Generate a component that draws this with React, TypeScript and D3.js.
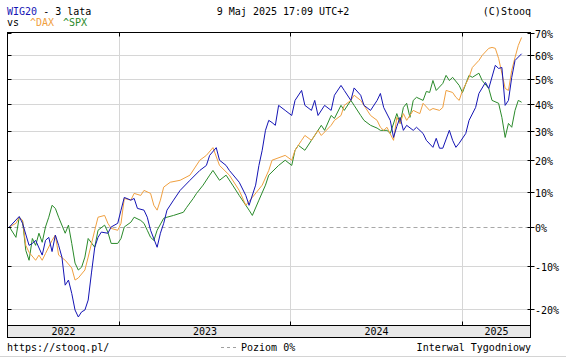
import React, { useEffect, useRef } from 'react';
import * as d3 from 'd3';

// week index counted from 13 May 2022, change in %
const wig20: [number, number][] = [
  [0, 0], [3, 2.9], [4, 1.0], [6, -4.9], [7, -4.4], [8, -3.6], [10, -7.4], [11, -3.6], [12, -2.8],
  [13, -6.5], [14, -2.2], [15, -4.9], [16, -7.9], [17, -14.7], [18, -13.5], [19, -16.6], [20, -20.3],
  [21, -21.8], [22, -20.7], [23, -20.3], [24, -18.1], [25, -11.8], [26, -5.4], [27, -2.8], [28, -1.4],
  [30, -1.7], [31, 0], [33, 1.0], [34, 4.7], [35, 8.4], [37, 7.6], [38, 8.1], [39, 5.2], [41, 4.7],
  [42, 2.7], [43, -0.9], [45, -5.4], [46, -1.7], [47, 1.0], [48, 4.7], [50, 7.6], [52, 10.5], [55, 13.6],
  [58, 16.7], [60, 18.3], [61, 21.6], [63, 24.2], [64, 20.0], [66, 18.3], [67, 16.7], [70, 13.0],
  [72, 9.0], [73, 6.1], [75, 12.1], [76, 18.3], [77, 23.3], [78, 30.2], [79, 33.8], [80, 33.0],
  [81, 32.0], [82, 39.4], [84, 37.5], [86, 35.6], [87, 41.3], [89, 45.2], [90, 39.4], [92, 37.5],
  [93, 41.3], [94, 35.6], [96, 39.4], [98, 37.5], [99, 43.3], [101, 47.2], [102, 45.2], [104, 41.3],
  [105, 46.2], [107, 43.3], [108, 39.4], [110, 37.5], [112, 41.3], [113, 44.0], [114, 38.6], [116, 33.8],
  [117, 27.7], [118, 31.6], [119, 34.9], [120, 30.2], [121, 32.0], [123, 30.2], [124, 31.3], [126, 29.1],
  [127, 26.7], [129, 24.3], [130, 27.4], [131, 24.0], [132, 24.0], [134, 30.2], [135, 26.7], [136, 24.3],
  [137, 25.7], [139, 29.1], [140, 33.8], [142, 38.6], [143, 44.0], [145, 48.4], [146, 46.0], [148, 55.5],
  [149, 54.2], [150, 54.6], [151, 39.4], [152, 41.3], [153, 50.5], [154, 57.6], [156, 60.5],
];

const dax: [number, number][] = [
  [0, 0], [2, 1.0], [3, 2.7], [4, 1.8], [5, -4.9], [6, -6.7], [8, -8.7], [9, -7.4], [10, -8.7],
  [11, -7.0], [13, -3.6], [14, -2.2], [15, -7.4], [17, -8.7], [19, -10.6], [20, -13.5], [21, -13.0],
  [23, -11.1], [24, -7.9], [26, -0.9], [27, 2.7], [29, 3.2], [30, 1.0], [31, -0.4], [33, -0.9],
  [34, 1.0], [35, 8.1], [37, 7.6], [38, 9.6], [40, 9.0], [41, 10.5], [43, 9.6], [44, 6.1], [45, 4.7],
  [46, 7.6], [47, 11.5], [49, 13.0], [52, 13.6], [55, 15.2], [58, 20.0], [60, 21.6], [62, 24.2],
  [64, 18.3], [67, 15.2], [70, 10.5], [72, 6.1], [74, 8.4], [77, 12.1], [79, 16.7], [80, 20.0],
  [84, 21.6], [86, 20.0], [87, 23.3], [89, 26.7], [90, 28.4], [92, 26.7], [94, 30.2], [95, 28.4],
  [98, 32.0], [99, 33.8], [101, 35.6], [102, 39.4], [104, 41.3], [105, 43.3], [107, 41.3], [108, 39.4],
  [110, 35.6], [112, 33.8], [113, 31.3], [114, 30.2], [115, 31.3], [117, 26.7], [118, 34.9], [119, 32.7],
  [120, 36.3], [121, 33.8], [123, 37.5], [125, 36.3], [126, 40.2], [128, 37.5], [129, 38.2], [131, 37.5],
  [132, 38.6], [133, 45.2], [135, 44.4], [136, 42.5], [137, 41.3], [138, 45.2], [140, 50.5], [141, 54.6],
  [143, 57.6], [144, 59.8], [146, 62.9], [147, 63.3], [148, 62.9], [149, 58.5], [150, 52.2], [151, 46.0],
  [152, 45.2], [153, 53.4], [154, 58.9], [155, 64.2], [156, 67.8],
];

const spx: [number, number][] = [
  [0, 0], [2, -2.8], [3, 2.7], [4, 1.8], [5, -6.2], [6, -8.7], [7, -3.1], [8, -4.9], [9, -1.7],
  [10, -4.1], [11, 0], [12, 2.7], [13, 6.1], [14, 5.2], [15, 2.7], [17, -1.7], [18, 0.5], [19, -4.4],
  [20, -9.4], [21, -11.1], [22, -10.4], [23, -7.9], [24, -3.1], [26, -5.4], [27, -0.9], [29, 0.5],
  [30, -1.4], [31, -4.4], [33, -4.4], [34, -3.1], [35, 0], [37, 1.3], [38, 2.7], [40, 1.8], [41, 1.0],
  [42, -0.9], [43, -2.8], [44, -3.6], [45, -0.9], [47, 2.4], [48, 2.7], [50, 3.2], [53, 4.1], [54, 5.5],
  [56, 8.1], [57, 9.6], [59, 12.1], [61, 15.2], [62, 16.7], [64, 13.6], [66, 15.2], [68, 12.1], [70, 9.0],
  [73, 4.7], [74, 3.2], [76, 7.6], [78, 12.1], [79, 15.2], [82, 18.3], [84, 20.0], [86, 18.3], [87, 23.3],
  [88, 25.0], [90, 23.3], [92, 26.7], [93, 28.4], [95, 32.0], [96, 30.2], [98, 35.6], [99, 34.5],
  [101, 39.4], [102, 37.5], [104, 41.3], [105, 39.4], [107, 35.6], [108, 33.8], [110, 32.0], [112, 31.0],
  [113, 30.2], [115, 30.2], [116, 29.1], [118, 36.3], [119, 32.7], [120, 38.6], [121, 40.2], [122, 34.9],
  [123, 41.3], [124, 42.5], [126, 41.3], [127, 44.8], [128, 44.4], [129, 49.2], [130, 45.2], [132, 48.0],
  [133, 51.3], [134, 49.2], [135, 50.5], [137, 47.2], [138, 44.4], [140, 51.3], [141, 50.5], [143, 52.2],
  [144, 49.2], [146, 46.0], [147, 41.3], [149, 40.2], [150, 34.9], [151, 27.7], [152, 32.7], [153, 31.3],
  [154, 37.5], [155, 41.3], [156, 40.6],
];

const yTicks = [-20, -10, 0, 10, 20, 30, 40, 50, 60, 70];
const years = [2022, 2023, 2024, 2025];

const FONT = '"DejaVu Sans Mono", monospace';
const W = 566;
const H = 359;

const start = new Date(2022, 4, 13);
const weekDate = (w: number) => new Date(start.getTime() + w * 7 * 864e5);

const Chart: React.FC = () => {
  const ref = useRef<SVGSVGElement | null>(null);

  useEffect(() => {
    if (!ref.current) return;
    const svg = d3.select(ref.current);
    svg.selectAll('*').remove();

    const left = 7.5, right = 530.5, top = 32.5, plotBottom = 325.5, bandBottom = 337.5;

    const x = d3
      .scaleTime()
      .domain([new Date(2022, 4, 9), new Date(2025, 4, 28)])
      .range([left, right]);
    const y = d3
      .scaleLinear()
      .domain([Math.log(0.764), Math.log(1.701)])
      .range([plotBottom, top]);
    const yp = (p: number) => y(Math.log(1 + p / 100));

    svg.append('rect').attr('width', W).attr('height', H).attr('fill', '#fff');

    // grid
    const yearX = years.slice(1).map((yr) => Math.round(x(new Date(yr, 0, 1))) + 0.5);
    yTicks.forEach((t) => {
      if (t === 70) return;
      svg
        .append('line')
        .attr('x1', left).attr('x2', right)
        .attr('y1', Math.round(yp(t)) + 0.5).attr('y2', Math.round(yp(t)) + 0.5)
        .attr('stroke', t === 0 ? '#a8a8a8' : '#d6d6d6')
        .attr('stroke-dasharray', t === 0 ? '4,3' : null);
    });
    yearX.forEach((xx) => {
      svg
        .append('line')
        .attr('x1', xx).attr('x2', xx)
        .attr('y1', top).attr('y2', plotBottom)
        .attr('stroke', '#d6d6d6');
    });

    // lines
    const line = d3
      .line<[number, number]>()
      .x((d) => x(weekDate(d[0])))
      .y((d) => yp(d[1]));
    const g = svg.append('g');
    [
      { data: spx, color: '#2a8a2a' },
      { data: dax, color: '#f0a040' },
      { data: wig20, color: '#1414b4' },
    ].forEach((s) => {
      g.append('path')
        .datum(s.data)
        .attr('d', line)
        .attr('fill', 'none')
        .attr('stroke', s.color)
        .attr('stroke-width', 1);
    });

    // band + frame
    svg
      .append('rect')
      .attr('x', left).attr('y', plotBottom)
      .attr('width', right - left).attr('height', bandBottom - plotBottom)
      .attr('fill', '#e8e8e8');
    svg
      .append('rect')
      .attr('x', left).attr('y', top)
      .attr('width', right - left).attr('height', bandBottom - top)
      .attr('fill', 'none').attr('stroke', '#000');
    svg
      .append('line')
      .attr('x1', left).attr('x2', right)
      .attr('y1', plotBottom).attr('y2', plotBottom)
      .attr('stroke', '#000');

    // ticks
    yTicks.forEach((t) => {
      const yy = Math.round(yp(t)) + 0.5;
      svg.append('line').attr('x1', left).attr('x2', left + 4).attr('y1', yy).attr('y2', yy).attr('stroke', '#000');
      svg.append('line').attr('x1', right - 3).attr('x2', right + 4).attr('y1', yy).attr('y2', yy).attr('stroke', '#000');
      svg
        .append('text')
        .attr('x', 535).attr('y', yy + 4)
        .attr('font-family', FONT).attr('font-size', 10)
        .text(`${t}%`);
    });
    yearX.forEach((xx) => {
      svg.append('line').attr('x1', xx).attr('x2', xx).attr('y1', top).attr('y2', top + 4).attr('stroke', '#000');
      svg.append('line').attr('x1', xx).attr('x2', xx).attr('y1', plotBottom - 4).attr('y2', plotBottom).attr('stroke', '#000');
    });

    // year labels
    const bounds = [left, ...yearX, right];
    years.forEach((yr, i) => {
      svg
        .append('text')
        .attr('x', (bounds[i] + bounds[i + 1]) / 2).attr('y', 335)
        .attr('text-anchor', 'middle')
        .attr('font-family', FONT).attr('font-size', 10)
        .text(yr);
    });

    // header
    const hdr = svg.append('text').attr('x', 7).attr('y', 15).attr('font-family', FONT).attr('font-size', 10);
    hdr.append('tspan').attr('fill', '#1414b4').text('WIG20');
    hdr.append('tspan').attr('fill', '#000').text(' - 3 lata');
    svg.append('text').attr('x', 283).attr('y', 15).attr('text-anchor', 'middle')
      .attr('font-family', FONT).attr('font-size', 10).text('9 Maj 2025 17:09 UTC+2');
    svg.append('text').attr('x', 531).attr('y', 15).attr('text-anchor', 'end')
      .attr('font-family', FONT).attr('font-size', 10).text('(C)Stooq');
    svg.append('text').attr('x', 7).attr('y', 26).attr('font-family', FONT).attr('font-size', 10).text('vs');
    svg.append('text').attr('x', 30).attr('y', 26).attr('font-family', FONT).attr('font-size', 10)
      .attr('fill', '#f0a040').text('^DAX');
    svg.append('text').attr('x', 63).attr('y', 26).attr('font-family', FONT).attr('font-size', 10)
      .attr('fill', '#2a8a2a').text('^SPX');

    // footer
    svg.append('text').attr('x', 7).attr('y', 351).attr('font-family', FONT).attr('font-size', 10)
      .text('https://stooq.pl/');
    svg.append('line').attr('x1', 221).attr('x2', 238).attr('y1', 347.5).attr('y2', 347.5)
      .attr('stroke', '#a0a0a0').attr('stroke-dasharray', '3,3');
    svg.append('text').attr('x', 241).attr('y', 351).attr('font-family', FONT).attr('font-size', 10)
      .text('Poziom 0%');
    svg.append('text').attr('x', 531).attr('y', 351).attr('text-anchor', 'end')
      .attr('font-family', FONT).attr('font-size', 10).text('Interwal Tygodniowy');
    svg.append('line').attr('x1', 0).attr('x2', W).attr('y1', 356.5).attr('y2', 356.5).attr('stroke', '#d4d4d4');
  }, []);

  return (
    <svg
      ref={ref}
      width={W}
      height={H}
      style={{ position: 'absolute', left: 0, top: 0, display: 'block' }}
    />
  );
};

export default function App() {
  return <Chart />;
}
